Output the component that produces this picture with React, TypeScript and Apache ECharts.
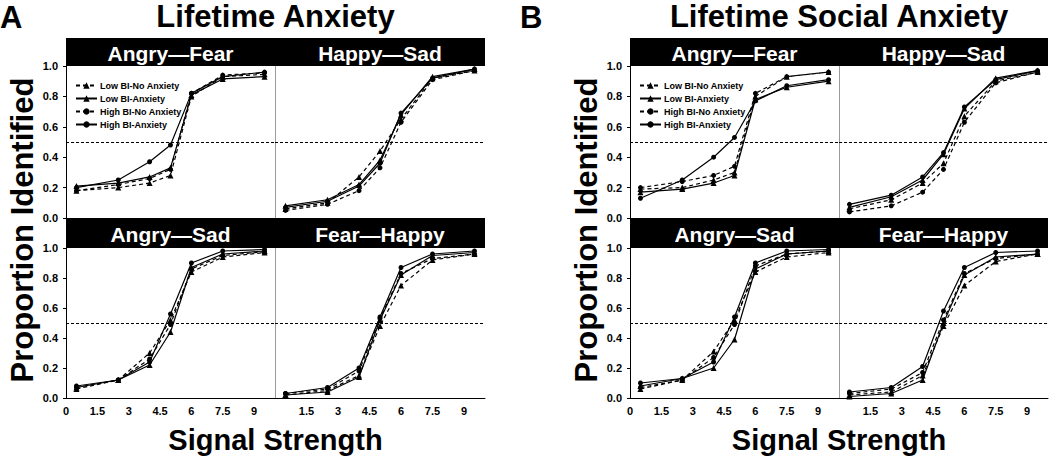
import React, { useEffect, useRef } from "react";
import * as echarts from "echarts";

const SIGNAL = [0.5, 2.5, 4, 5, 6, 7.5, 9.5];
const GROUPS = ["Low BI-No Anxiety", "Low BI-Anxiety", "High BI-No Anxiety", "High BI-Anxiety"];
const PANEL_TITLES = ["Angry—Fear", "Happy—Sad", "Angry—Sad", "Fear—Happy"];
const FIGURE_TITLES = ["Lifetime Anxiety", "Lifetime Social Anxiety"];
const FIGURE_LETTERS = ["A", "B"];

// order within each panel: Low BI-No Anxiety, Low BI-Anxiety, High BI-No Anxiety, High BI-Anxiety
const A_ANGRY_FEAR = [
  [0.18, 0.2, 0.23, 0.28, 0.8, 0.93, 0.945],
  [0.21, 0.23, 0.27, 0.33, 0.81, 0.915, 0.93],
  [0.18, 0.22, 0.26, 0.32, 0.82, 0.94, 0.955],
  [0.2, 0.25, 0.37, 0.48, 0.82, 0.93, 0.96],
];
const A_HAPPY_SAD = [
  [0.06, 0.1, 0.27, 0.44, 0.65, 0.92, 0.97],
  [0.08, 0.12, 0.22, 0.38, 0.68, 0.93, 0.98],
  [0.05, 0.09, 0.18, 0.33, 0.63, 0.91, 0.97],
  [0.07, 0.11, 0.21, 0.36, 0.69, 0.92, 0.98],
];
const A_ANGRY_SAD = [
  [0.06, 0.12, 0.3, 0.52, 0.84, 0.94, 0.97],
  [0.07, 0.12, 0.22, 0.44, 0.87, 0.96, 0.98],
  [0.07, 0.12, 0.26, 0.49, 0.86, 0.95, 0.975],
  [0.08, 0.12, 0.24, 0.56, 0.9, 0.98, 0.99],
];
const A_FEAR_HAPPY = [
  [0.02, 0.05, 0.15, 0.48, 0.75, 0.92, 0.96],
  [0.02, 0.04, 0.14, 0.52, 0.82, 0.95, 0.97],
  [0.03, 0.06, 0.18, 0.53, 0.83, 0.93, 0.96],
  [0.03, 0.07, 0.2, 0.54, 0.87, 0.96, 0.98],
];
const B_ANGRY_FEAR = [
  [0.19, 0.2, 0.25, 0.3, 0.8, 0.93, 0.96],
  [0.17, 0.19, 0.23, 0.28, 0.78, 0.86, 0.9],
  [0.2, 0.24, 0.28, 0.34, 0.82, 0.93, 0.96],
  [0.13, 0.25, 0.4, 0.53, 0.77, 0.87, 0.91],
];
const B_HAPPY_SAD = [
  [0.06, 0.12, 0.23, 0.36, 0.67, 0.9, 0.96],
  [0.07, 0.14, 0.25, 0.42, 0.72, 0.92, 0.97],
  [0.04, 0.08, 0.17, 0.32, 0.63, 0.89, 0.96],
  [0.09, 0.15, 0.27, 0.43, 0.73, 0.91, 0.97],
];
const B_ANGRY_SAD = [
  [0.06, 0.12, 0.31, 0.52, 0.84, 0.94, 0.97],
  [0.08, 0.13, 0.2, 0.39, 0.86, 0.96, 0.98],
  [0.07, 0.12, 0.27, 0.49, 0.88, 0.96, 0.98],
  [0.1, 0.13, 0.24, 0.54, 0.9, 0.98, 0.99],
];
const B_FEAR_HAPPY = [
  [0.02, 0.04, 0.15, 0.48, 0.75, 0.91, 0.96],
  [0.01, 0.03, 0.12, 0.5, 0.82, 0.94, 0.96],
  [0.03, 0.06, 0.17, 0.52, 0.83, 0.93, 0.96],
  [0.04, 0.07, 0.21, 0.58, 0.87, 0.97, 0.98],
];

const PANELS = [A_ANGRY_FEAR, A_HAPPY_SAD, A_ANGRY_SAD, A_FEAR_HAPPY, B_ANGRY_FEAR, B_HAPPY_SAD, B_ANGRY_SAD, B_FEAR_HAPPY];

const FONT = "'Liberation Sans', Arial, Helvetica, sans-serif";
const FIG_LEFT = [66, 630];
const COL_W = [[209, 210], [209, 209]];
const ROW_TOP = [66, 248];
const ROW_H = [152, 150];
const BAR_TOP = [38, 218];
const BAR_H = [28, 30];

const STYLES = [
  { dashed: true, symbol: "triangle", size: 6 },
  { dashed: false, symbol: "triangle", size: 6 },
  { dashed: true, symbol: "circle", size: 5 },
  { dashed: false, symbol: "circle", size: 5 },
];

export default function App() {
  const ref = useRef<HTMLDivElement>(null);
  useEffect(() => {
    if (!ref.current) return;
    const chart = echarts.init(ref.current, null, { renderer: "svg" });
    const grids: any[] = [];
    const xAxes: any[] = [];
    const yAxes: any[] = [];
    const series: any[] = [];
    const graphics: any[] = [];

    for (let f = 0; f < 2; f++) {
      const figLeft = FIG_LEFT[f];
      const totalW = COL_W[f][0] + COL_W[f][1];
      const figCenter = figLeft + totalW / 2;
      for (let r = 0; r < 2; r++) {
        graphics.push({
          type: "rect",
          shape: { x: figLeft, y: BAR_TOP[r], width: totalW, height: BAR_H[r] },
          style: { fill: "#000" },
          z: 10,
        });
        for (let c = 0; c < 2; c++) {
          const p = f * 4 + r * 2 + c;
          const left = figLeft + (c === 0 ? 0 : COL_W[f][0]);
          const w = COL_W[f][c];
          grids.push({ left, top: ROW_TOP[r], width: w, height: ROW_H[r], containLabel: false });
          graphics.push({
            type: "text",
            x: left + w / 2,
            y: BAR_TOP[r] + BAR_H[r] / 2 + 1,
            z: 11,
            style: {
              text: PANEL_TITLES[r * 2 + c],
              fill: "#fff",
              font: `bold 21px ${FONT}`,
              textAlign: "center",
              textVerticalAlign: "middle",
            },
          });
          xAxes.push({
            gridIndex: p,
            type: "value",
            min: 0,
            max: 10,
            interval: 1.5,
            show: r === 1,
            axisLine: { show: true, onZero: false, lineStyle: { color: "#000", width: 1 } },
            axisTick: { show: false },
            axisLabel: {
              show: true,
              showMaxLabel: false,
              showMinLabel: c === 0,
              margin: 7,
              color: "#000",
              fontSize: 11,
              fontWeight: "bold",
              fontFamily: FONT,
              formatter: (v: number) => String(v),
            },
            splitLine: { show: false },
          });
          yAxes.push({
            gridIndex: p,
            type: "value",
            min: 0,
            max: 1,
            interval: 0.2,
            axisLine: { show: true, lineStyle: { color: c === 0 ? "#000" : "#9a9a9a", width: 1 } },
            axisTick: { show: c === 0, inside: false, length: 3, lineStyle: { color: "#000" } },
            axisLabel: {
              show: c === 0,
              margin: 8,
              color: "#000",
              fontSize: 11,
              fontWeight: "bold",
              fontFamily: FONT,
              formatter: (v: number) => v.toFixed(1),
            },
            splitLine: { show: false },
          });
          const data = PANELS[p];
          for (let s = 0; s < 4; s++) {
            const st = STYLES[s];
            series.push({
              type: "line",
              name: GROUPS[s],
              xAxisIndex: p,
              yAxisIndex: p,
              data: SIGNAL.map((x, i) => [x, data[s][i]]),
              symbol: st.symbol,
              symbolSize: st.size,
              showSymbol: true,
              itemStyle: { color: "#000", borderWidth: 0 },
              lineStyle: { color: "#000", width: 1.2, type: st.dashed ? [4, 3] : "solid" },
              z: 3,
              markLine:
                s === 0
                  ? {
                      silent: true,
                      symbol: "none",
                      label: { show: false },
                      lineStyle: { color: "#000", width: 1, type: [3, 2] },
                      data: [{ yAxis: 0.5 }],
                    }
                  : undefined,
            });
          }
        }
      }
      graphics.push({
        type: "text",
        x: f === 0 ? 0 : 520,
        y: 2,
        style: { text: FIGURE_LETTERS[f], fill: "#000", font: `bold 31px ${FONT}`, textAlign: "left", textVerticalAlign: "top" },
      });
      graphics.push({
        type: "text",
        x: figCenter,
        y: 1,
        style: { text: FIGURE_TITLES[f], fill: "#000", font: `bold 31px ${FONT}`, textAlign: "center", textVerticalAlign: "top" },
      });
      graphics.push({
        type: "text",
        x: f === 0 ? 22 : 586,
        y: 230,
        rotation: Math.PI / 2,
        style: { text: "Proportion Identified", fill: "#000", font: `bold 31px ${FONT}`, textAlign: "center", textVerticalAlign: "middle" },
      });
      graphics.push({
        type: "text",
        x: figCenter,
        y: 440,
        style: { text: "Signal Strength", fill: "#000", font: `bold 29px ${FONT}`, textAlign: "center", textVerticalAlign: "middle" },
      });
    }

    const legends = FIG_LEFT.map((fl) => ({
      orient: "vertical",
      left: fl + 4,
      top: 76,
      itemWidth: 21,
      itemHeight: 8,
      itemGap: 4,
      selectedMode: false,
      data: GROUPS,
      textStyle: { color: "#000", fontSize: 9, fontWeight: "bold", fontFamily: FONT, padding: [0, 0, 0, -2] },
    }));

    chart.setOption({
      animation: false,
      backgroundColor: "#fff",
      grid: grids,
      xAxis: xAxes,
      yAxis: yAxes,
      series,
      legend: legends,
      graphic: graphics,
    });
    return () => chart.dispose();
  }, []);
  return <div ref={ref} style={{ position: "fixed", left: 0, top: 0, width: 1050, height: 459 }} />;
}
